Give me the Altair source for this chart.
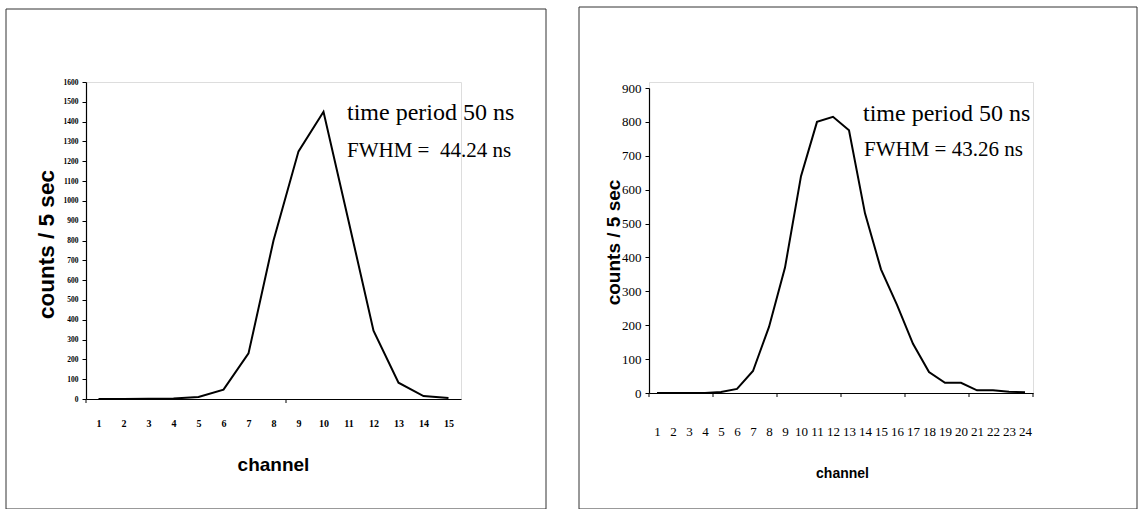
import altair as alt
import pandas as pd

# Panel A: 15 channels
channels_a = list(range(1, 16))
counts_a = [0, 0, 1, 3, 10, 47, 230, 800, 1250, 1450, 900, 345, 82, 15, 5]
ticks_a = [0.5, 8.5]
yticks_a = list(range(0, 1601, 100))
notes_a = ["time period 50 ns", "FWHM =\u00a0 44.24 ns"]

# Panel B: 24 channels
channels_b = list(range(1, 25))
counts_b = [0, 0, 0, 0, 3, 12, 65, 195, 370, 640, 800, 815, 775, 530, 365,
            260, 145, 62, 30, 30, 8, 8, 4, 2]
ticks_b = [0.5, 4.5, 8.5, 12.5, 16.5, 20.5, 24.5]
yticks_b = list(range(0, 901, 100))
notes_b = ["time period 50 ns", "FWHM = 43.26 ns"]

SERIF = "Liberation Serif"
SANS = "Liberation Sans"


def panel(channels, counts, tick_pos, yticks, notes, w, h, yrange, frame,
          ylab, xlab, ytitle, xtitle, note_pos):
    df = pd.DataFrame({"channel": channels, "counts": counts})
    n = len(channels)
    xscale = alt.Scale(domain=[0.5, n + 0.5], nice=False, zero=False)
    ysc = dict(domain=[yticks[0], yticks[-1]], nice=False, zero=True)
    if yrange is not None:
        ysc["range"] = yrange
    yscale = alt.Scale(**ysc)
    base_h = yrange[0] if yrange is not None else h

    xaxis = alt.Axis(
        values=channels, format="d", ticks=False, tickSize=0, grid=False,
        domainColor="black", domainWidth=1.2,
        labelFont=SERIF, labelFontSize=xlab["size"],
        labelFontWeight=xlab["weight"], labelColor="black",
        labelPadding=xlab["pad"], labelBaseline="middle",
        labelOverlap=False, labelFlush=False,
        title="channel", titleFont=SANS, titleFontWeight="bold",
        titleFontSize=xtitle["size"], titleColor="black",
        titleX=xtitle["x"], titleY=xtitle["y"],
        titleAlign="center", titleBaseline="middle",
    )

    line = alt.Chart(df).mark_line(color="black", strokeWidth=2).encode(
        x=alt.X("channel:Q", scale=xscale, axis=xaxis),
        y=alt.Y("counts:Q", scale=yscale, axis=alt.Axis(
            values=yticks, format="d", grid=False,
            domainColor="black", domainWidth=1.2,
            tickColor="black", tickSize=4, tickWidth=1,
            labelFont=SERIF, labelFontSize=ylab["size"],
            labelFontWeight=ylab["weight"], labelColor="black",
            labelPadding=ylab["pad"], labelOverlap=False, labelFlush=False,
            title="counts / 5 sec", titleFont=SANS, titleFontWeight="bold",
            titleFontSize=ytitle["size"], titleColor="black",
            titleAngle=270, titleX=ytitle["x"], titleY=ytitle["y"],
            titleAlign="center", titleBaseline="middle",
        )),
    )

    # category-boundary tick marks below the x axis
    tdf = pd.DataFrame({"b": tick_pos})
    xticks = alt.Chart(tdf).mark_rule(color="black", strokeWidth=1).encode(
        x=alt.X("b:Q", scale=xscale, axis=xaxis),
        y=alt.value(base_h),
        y2=alt.value(base_h + 4),
    )

    layers = [line, xticks]
    for txt, (tx, ty, fs) in zip(notes, note_pos):
        layers.append(
            alt.Chart(pd.DataFrame({"t": [txt]})).mark_text(
                align="left", baseline="middle", font=SERIF,
                fontSize=fs, color="black",
            ).encode(x=alt.value(tx), y=alt.value(ty), text="t:N")
        )

    box = alt.Chart(pd.DataFrame({"k": [0]})).mark_rect(
        fill=None, stroke="#333333", strokeWidth=1
    ).encode(
        x=alt.value(frame[0]), x2=alt.value(frame[1]),
        y=alt.value(frame[2]), y2=alt.value(frame[3]),
    )
    layers.append(box)

    return alt.layer(*layers).properties(width=w, height=h)


left = panel(
    channels_a, counts_a, ticks_a, yticks_a, notes_a,
    w=375, h=317, yrange=None, frame=(-80, 460, -73, 427),
    ylab=dict(size=7.5, weight="bold", pad=4),
    xlab=dict(size=10, weight="bold", pad=24),
    ytitle=dict(size=22.5, x=-40, y=162),
    xtitle=dict(size=19, x=187, y=65),
    note_pos=[(261, 31, 24), (261, 69, 21)],
)

right = panel(
    channels_b, counts_b, ticks_b, yticks_b, notes_b,
    w=384, h=311, yrange=[311, 6], frame=(-70, 488, -75, 427),
    ylab=dict(size=13, weight="normal", pad=4),
    xlab=dict(size=13, weight="normal", pad=38),
    ytitle=dict(size=19, x=-36, y=160),
    xtitle=dict(size=14, x=193, y=80),
    note_pos=[(214, 32, 24), (215, 68, 21)],
)

chart = alt.hconcat(left, right, spacing=188, bounds="flush").properties(
    padding={"left": 5, "top": 6, "right": 0, "bottom": 0}
).configure_view(stroke=None).configure(background="white")

chart.save("out.html", embed_options={"renderer": "svg", "actions": False})
